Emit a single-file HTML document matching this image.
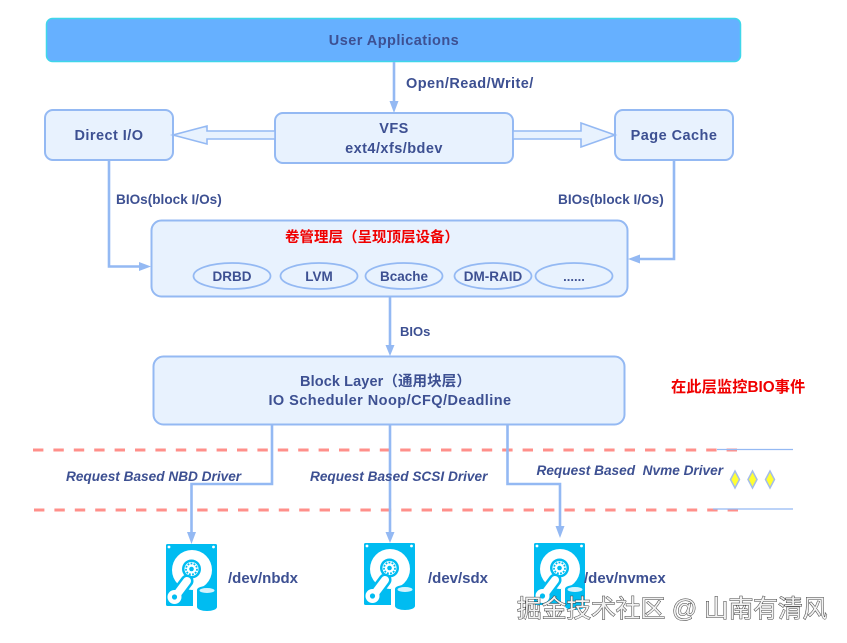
<!DOCTYPE html>
<html><head><meta charset="utf-8">
<style>
html,body{margin:0;padding:0;background:#fff;width:847px;height:643px;overflow:hidden}
svg{display:block;filter:blur(.3px)}
text{font-family:"Liberation Sans","Noto Sans CJK SC",sans-serif;font-weight:bold;fill:#3d5092;font-size:14px}
.m{text-anchor:middle}
.t{font-size:14.5px;letter-spacing:.45px}
.box{fill:#e8f2fe;stroke:#94b9f3;stroke-width:2}
.ln{fill:none;stroke:#94b9f3;stroke-width:2.6}
.ah{fill:#94b9f3}
.ha{fill:#e8f2fe;stroke:#94b9f3;stroke-width:1.6}
.el{fill:#e8f2fe;stroke:#94b9f3;stroke-width:1.8}
.d{fill:none;stroke:#ff8f8a;stroke-width:3;stroke-dasharray:10.4 10}
.i{font-style:italic;font-size:13.65px}
.dm{fill:#ffff33;stroke:#a4bdea;stroke-width:1.5}
.wm{font-family:"Liberation Sans","Noto Sans CJK SC",sans-serif;font-weight:normal;font-size:24.7px;fill:#f2f2f2;stroke:#3c3c3c;stroke-width:1;paint-order:stroke}
</style></head>
<body>
<svg width="847" height="643" viewBox="0 0 847 643" xmlns="http://www.w3.org/2000/svg">
<defs>
<g id="disk">
<rect x="0" y="0" width="51" height="62" rx="1.5" fill="#00bcf1"/>
<circle cx="3" cy="3" r="1.4" fill="#fff"/><circle cx="47.5" cy="3" r="1.4" fill="#fff"/>
<circle cx="26" cy="26" r="20" fill="#fff"/>
<circle cx="25.5" cy="25" r="9.5" fill="#00bcf1"/>
<circle cx="25.5" cy="25" r="7" fill="#fff"/>
<circle cx="25.5" cy="25" r="5.5" fill="none" stroke="#00bcf1" stroke-width="1.8" stroke-dasharray="1.8 1.3"/>
<circle cx="25.5" cy="25" r="2.3" fill="#00bcf1"/>
<line x1="21" y1="37" x2="9" y2="53" stroke="#00bcf1" stroke-width="13" stroke-linecap="round"/>
<line x1="21" y1="37" x2="9" y2="53" stroke="#fff" stroke-width="8" stroke-linecap="round"/>
<circle cx="8.5" cy="53" r="7" fill="#fff"/><circle cx="8.5" cy="53" r="2.6" fill="#00bcf1"/>
<path d="M27 46a14 7 0 0 1 24 0V70H27Z" fill="#fff"/>
<path d="M31 46a10 4 0 0 1 20 0V63a10 4 0 0 1-20 0Z" fill="#00bcf1"/>
<ellipse cx="41" cy="46.5" rx="7.5" ry="2.5" fill="#d5f2fc"/>
</g>
</defs>

<rect x="46.5" y="18.5" width="694" height="43" rx="6" fill="#66b0ff" stroke="#3fd6ea" stroke-width="1.5"/>
<text class="m t" x="394" y="45">User Applications</text>

<line class="ln" x1="394" y1="62" x2="394" y2="104"/>
<path class="ah" d="M389.5 101L398.5 101L394 113Z"/>
<text class="t" x="406" y="88">Open/Read/Write/</text>

<rect class="box" x="45" y="110" width="128" height="50" rx="8"/>
<text class="m t" x="109" y="140">Direct I/O</text>
<rect class="box" x="275" y="113" width="238" height="50" rx="8"/>
<text class="m t" x="394" y="133">VFS</text>
<text class="m t" x="394" y="153">ext4/xfs/bdev</text>
<rect class="box" x="615" y="110" width="118" height="50" rx="8"/>
<text class="m t" x="674" y="140">Page Cache</text>

<path class="ha" d="M275 131H207V126L173 135L207 144V139H275Z"/>
<path class="ha" d="M513 131H581V123L615 135L581 147V139H513Z"/>

<path class="ln" d="M109 160V266.5H143"/>
<path class="ah" d="M139 262L151 266.5L139 271Z"/>
<path class="ln" d="M674 160V259H636"/>
<path class="ah" d="M640 254.5L628 259L640 263.5Z"/>
<text x="116" y="204" style="font-size:13.6px">BIOs(block I/Os)</text>
<text x="558" y="204" style="font-size:13.6px">BIOs(block I/Os)</text>

<rect class="box" x="151.5" y="220.5" width="476" height="76" rx="10"/>
<text x="285" y="242" style="font-size:14.5px;fill:#f00000">卷管理层（呈现顶层设备）</text>
<ellipse class="el" cx="232" cy="276" rx="38.5" ry="13"/>
<text class="m" x="232" y="281" style="font-size:13.5px">DRBD</text>
<ellipse class="el" cx="319" cy="276" rx="38.5" ry="13"/>
<text class="m" x="319" y="281" style="font-size:13.5px">LVM</text>
<ellipse class="el" cx="404" cy="276" rx="38.5" ry="13"/>
<text class="m" x="404" y="281" style="font-size:13.5px">Bcache</text>
<ellipse class="el" cx="493" cy="276" rx="38.5" ry="13"/>
<text class="m" x="493" y="281" style="font-size:13.5px">DM-RAID</text>
<ellipse class="el" cx="574" cy="276" rx="38.5" ry="13"/>
<text class="m" x="574" y="281" style="font-size:13px">......</text>

<line class="ln" x1="390" y1="296" x2="390" y2="348"/>
<path class="ah" d="M385.5 345L394.5 345L390 356Z"/>
<text x="400" y="336" style="font-size:13px">BIOs</text>

<rect class="box" x="153.5" y="356.5" width="471" height="68" rx="10"/>
<text class="m" x="385.5" y="386" style="font-size:14.5px;letter-spacing:.1px">Block Layer（通用块层）</text>
<text class="m t" x="390" y="405">IO Scheduler Noop/CFQ/Deadline</text>

<text x="671" y="392" style="font-size:15.3px;fill:#f00000">在此层监控BIO事件</text>

<line class="d" x1="33" y1="450" x2="738" y2="450"/>
<line class="d" x1="34" y1="510" x2="739" y2="510"/>
<line x1="717" y1="449.5" x2="793" y2="449.5" stroke="#94b9f3" stroke-width="1.3"/>
<line x1="713" y1="509" x2="793" y2="509" stroke="#94b9f3" stroke-width="1.3"/>

<path class="ln" d="M272 424V484H191.5V536"/>
<path class="ah" d="M187 532L196 532L191.5 544Z"/>
<line class="ln" x1="390" y1="424" x2="390" y2="535"/>
<path class="ah" d="M385.5 532L394.5 532L390 543Z"/>
<path class="ln" d="M507.5 424V484H560V530"/>
<path class="ah" d="M555.5 526L564.5 526L560 538Z"/>

<text class="i" x="66" y="481">Request Based NBD Driver</text>
<text class="i" x="310" y="481">Request Based SCSI Driver</text>
<text class="i" x="536.5" y="475" xml:space="preserve">Request Based  Nvme Driver</text>

<path class="dm" d="M735 471L739.5 479.5L735 488L730.5 479.5Z"/>
<path class="dm" d="M752.5 471L757 479.5L752.5 488L748 479.5Z"/>
<path class="dm" d="M770 471L774.5 479.5L770 488L765.5 479.5Z"/>

<use href="#disk" x="166" y="544"/>
<use href="#disk" x="364" y="543"/>
<use href="#disk" x="534" y="543"/>

<text x="228" y="583" style="font-size:15px">/dev/nbdx</text>
<text x="428" y="583" style="font-size:15px">/dev/sdx</text>
<text x="584" y="583" style="font-size:15px">/dev/nvmex</text>

<text class="wm" x="517" y="617">掘金技术社区 @ 山南有清风</text>
</svg>
</body></html>
